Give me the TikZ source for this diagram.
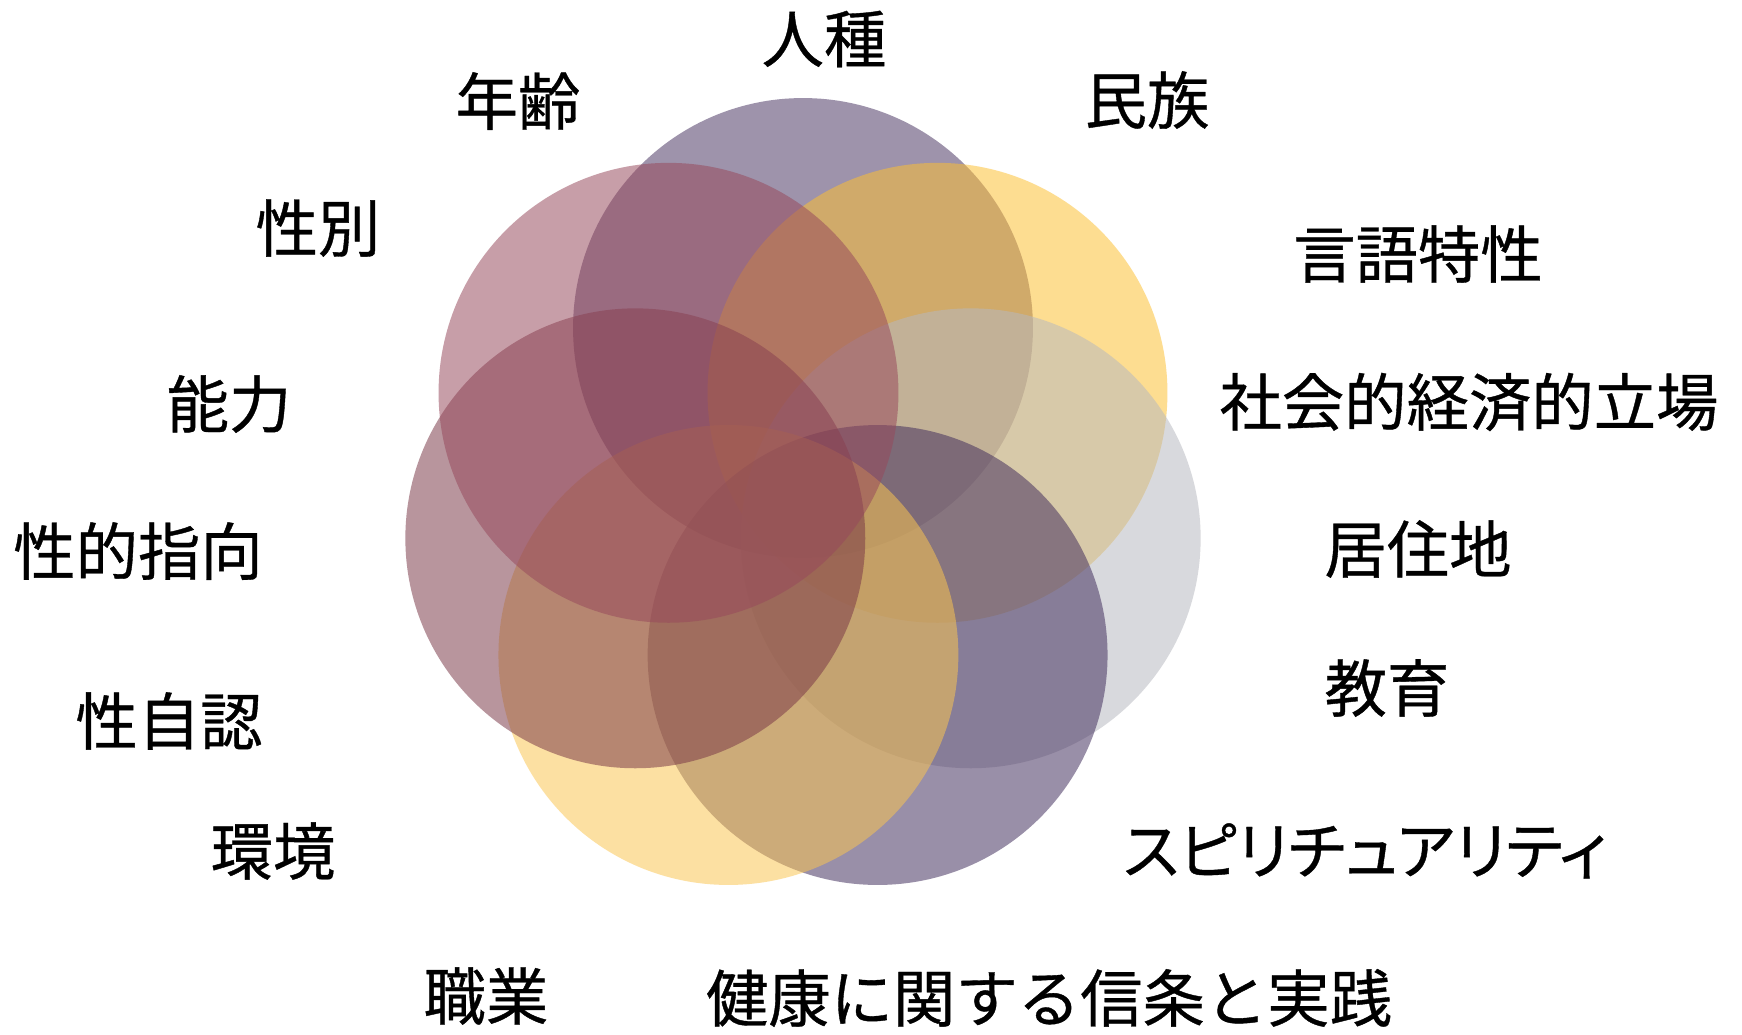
\documentclass[tikz,border=0pt]{standalone}
\usepackage{fontspec}
\setmainfont{Noto Sans CJK JP}[FakeBold=0.6]
\newfontfamily\jpprop{Noto Sans CJK JP}[RawFeature=+palt,FakeBold=0.6]
\definecolor{cA}{RGB}{72,51,97}
\definecolor{cB}{RGB}{253,191,49}
\definecolor{cC}{RGB}{183,185,191}
\definecolor{cD}{RGB}{64,44,91}
\definecolor{cE}{RGB}{251,197,80}
\definecolor{cF}{RGB}{121,55,70}
\definecolor{cG}{RGB}{151,72,91}
\begin{document}
\begin{tikzpicture}[x=0.02cm,y=-0.02cm,
  petal/.style={circle,draw=none,minimum size=9.2cm,inner sep=0pt,fill opacity=0.53},
  lbl/.style={inner sep=0pt,anchor=center,font=\fontsize{35.5}{40}\selectfont}]
\useasboundingbox (0,0) rectangle (1742,1035);
\fill[white] (0,0) rectangle (1742,1035);
% petals, drawn in stacking order
\node[petal,fill=cA] (p0) at (803,328) {};
\node[petal,fill=cB] (p1) at (937.5,392.8) {};
\node[petal,fill=cC] (p2) at (970.7,538.3) {};
\node[petal,fill=cD] (p3) at (877.6,655.0) {};
\node[petal,fill=cE] (p4) at (728.4,655.0) {};
\node[petal,fill=cF] (p5) at (635.3,538.3) {};
\node[petal,fill=cG] (p6) at (668.5,392.8) {};
% labels
\node[lbl] (l1) at (824,39) {人種};
\node[lbl] (l2) at (518,101) {年齢};
\node[lbl] (l3) at (1147,100) {民族};
\node[lbl] (l4) at (318,228) {性別};
\node[lbl] (l5) at (1418,254) {言語特性};
\node[lbl] (l6) at (229,404) {能力};
\node[lbl] (l7) at (1469,402) {社会的経済的立場};
\node[lbl] (l8) at (138,551) {性的指向};
\node[lbl] (l9) at (1418,549) {居住地};
\node[lbl] (l10) at (1387,688) {教育};
\node[lbl] (l11) at (169,721) {性自認};
\node[lbl] (l12) at (273,851) {環境};
\node[lbl] (l13) at (1365,851) {\jpprop スピリチュアリティ};
\node[lbl] (l14) at (486,996) {職業};
\node[lbl] (l15) at (1049,998) {健康に関する信条と実践};
\end{tikzpicture}
\end{document}
